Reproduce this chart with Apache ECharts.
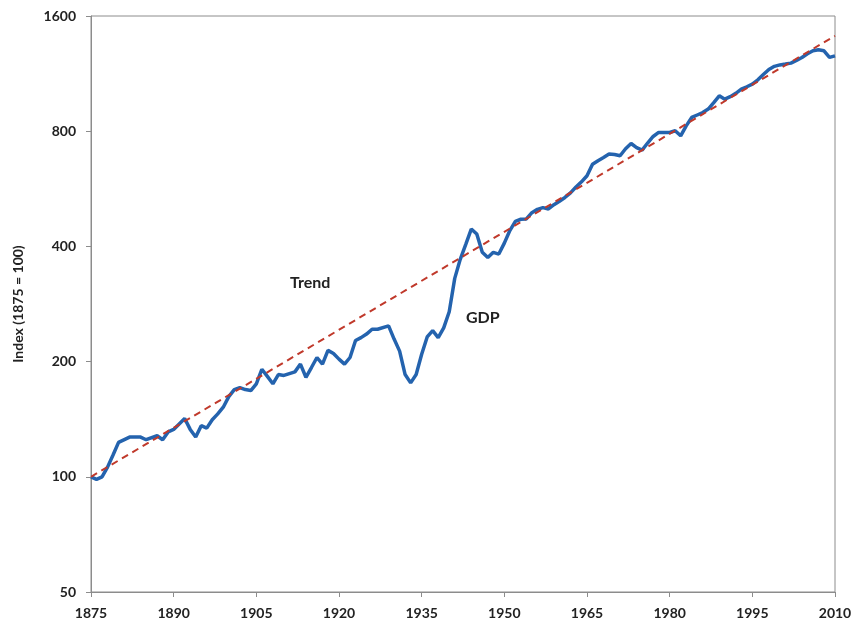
<!DOCTYPE html>
<html>
<head>
<meta charset="utf-8">
<title>GDP vs trend</title>
<script src="https://cdn.jsdelivr.net/npm/echarts@6/dist/echarts.min.js"></script>
<style>
  html, body { margin: 0; padding: 0; background: #fff; }
  #main { width: 859px; height: 635px; }
</style>
</head>
<body>
<div id="main"></div>
<script type="text/javascript">
// values: [year, index (1875 = 100)]
var gdp = [
  [1875,100],[1876,98.5],[1877,100],[1878,106],[1879,114],[1880,123],[1882,127],[1884,127],
  [1885,125],[1887,128],[1888,125],[1889,131],[1890,133],[1892,142],[1893,133],[1894,127],
  [1895,136],[1896,134],[1897,141],[1898,146],[1899,152],[1900,162],[1901,169],[1902,171],
  [1903,169],[1904,168],[1905,175],[1906,191],[1907,183],[1908,175],[1909,185],[1910,184],
  [1912,188],[1913,197],[1914,182],[1915,193],[1916,205],[1917,197],[1918,214],[1919,210],
  [1920,203],[1921,197],[1922,205],[1923,227],[1924,231],[1925,236],[1926,243],[1927,243],
  [1929,248],[1930,229],[1931,213],[1932,185],[1933,176],[1934,185],[1935,209],[1936,232],
  [1937,241],[1938,231],[1939,245],[1940,270],[1941,330],[1942,370],[1943,405],[1944,444],
  [1945,431],[1946,386],[1947,374],[1948,386],[1949,382],[1950,408],[1951,440],[1952,465],
  [1953,471],[1954,472],[1955,490],[1956,500],[1957,505],[1958,501],[1959,514],[1960,525],
  [1961,537],[1962,552],[1963,572],[1964,590],[1965,612],[1966,656],[1967,670],[1968,683],
  [1969,697],[1970,695],[1971,690],[1972,720],[1973,743],[1974,725],[1975,714],[1976,745],
  [1977,775],[1978,794],[1979,794],[1980,794],[1981,802],[1982,778],[1983,826],[1984,869],
  [1985,882],[1986,895],[1987,914],[1988,950],[1989,990],[1990,970],[1991,985],[1992,1005],
  [1993,1030],[1994,1045],[1995,1062],[1996,1090],[1997,1125],[1998,1160],[1999,1182],[2000,1192],
  [2001,1198],[2002,1205],[2003,1225],[2004,1247],[2005,1275],[2006,1298],[2007,1306],[2008,1298],
  [2009,1247],[2010,1259]
];
// trend line end points (straight on the log scale)
var trend = [[1875,100],[2010,1420]];
var yTicks = [50, 100, 200, 400, 800, 1600];
var xTicks = [1875, 1890, 1905, 1920, 1935, 1950, 1965, 1980, 1995, 2010];

var font = 'Lato, "Open Sans", sans-serif';
var myChart = echarts.init(document.getElementById('main'));
var option = {
    backgroundColor: '#fff',
    animation: false,
    grid: {
        left: 91, right: 24, top: 16, bottom: 43,
        show: true, borderColor: '#8c8c8c', borderWidth: 1
    },
    xAxis: {
        type: 'value',
        min: xTicks[0], max: xTicks[xTicks.length - 1], interval: 15,
        axisLine: { lineStyle: { color: '#8c8c8c' } },
        axisTick: { show: true, length: 5, lineStyle: { color: '#8c8c8c' } },
        splitLine: { show: false },
        axisLabel: {
            margin: 14, color: '#222', fontFamily: font, fontWeight: 'bold', fontSize: 14,
            formatter: function (v) { return String(v); }
        }
    },
    yAxis: {
        type: 'log', logBase: 2,
        min: yTicks[0], max: yTicks[yTicks.length - 1],
        name: 'Index (1875 = 100)', nameLocation: 'middle', nameGap: 66,
        nameTextStyle: { color: '#222', fontFamily: font, fontWeight: 'bold', fontSize: 14 },
        axisLine: { show: true, lineStyle: { color: '#8c8c8c' } },
        axisTick: { show: true, length: 5, customValues: yTicks, lineStyle: { color: '#8c8c8c' } },
        splitLine: { show: false },
        axisLabel: {
            margin: 15, color: '#222', fontFamily: font, fontWeight: 'bold', fontSize: 14,
            customValues: yTicks,
            formatter: function (v) { return String(Math.round(v)); }
        }
    },
    graphic: [
        { type: 'text', left: 290, top: 275,
          style: { text: 'Trend', fill: '#222', font: 'bold 16px ' + font } },
        { type: 'text', left: 466, top: 310,
          style: { text: 'GDP', fill: '#222', font: 'bold 16px ' + font } }
    ],
    series: [
        {
            name: 'Trend', type: 'line', data: trend, symbol: 'none', z: 3,
            lineStyle: { color: '#c0392b', width: 2, type: [7, 5] }
        },
        {
            name: 'GDP', type: 'line', data: gdp, symbol: 'none', z: 2,
            lineStyle: { color: '#2463ae', width: 3.5 }
        }
    ]
};
myChart.setOption(option);
</script>
</body>
</html>
